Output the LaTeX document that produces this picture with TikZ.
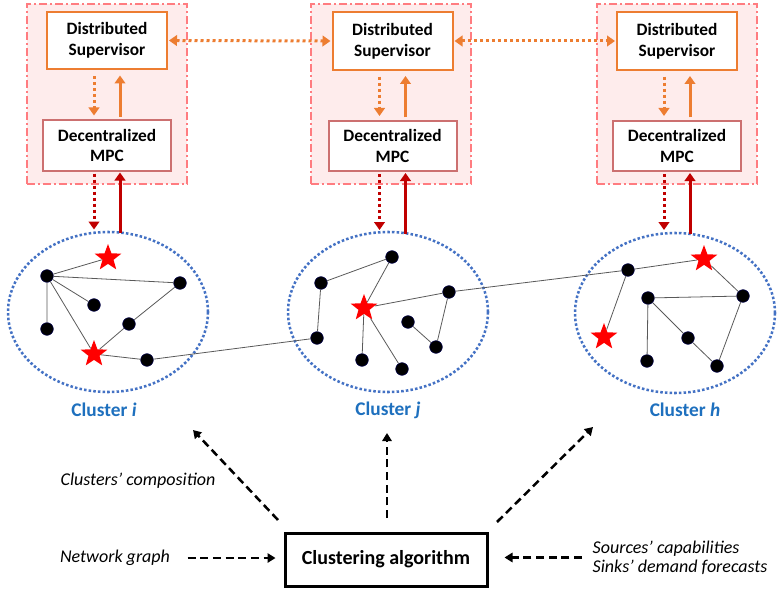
\documentclass[tikz,border=0pt]{standalone}
\usepackage{fontspec}
\setmainfont{Carlito}
\usetikzlibrary{shapes.geometric, arrows.meta, calc}

\definecolor{grpline}{RGB}{255,124,128}
\definecolor{grpfill}{RGB}{254,236,236}
\definecolor{supline}{RGB}{237,125,49}
\definecolor{mpcline}{RGB}{204,112,112}
\definecolor{ctrl}{RGB}{192,0,0}
\definecolor{clus}{RGB}{68,114,196}
\definecolor{clustext}{RGB}{30,112,190}

\begin{document}
\begin{tikzpicture}[x=0.75pt, y=-0.75pt]
	\tikzstyle{grp}=[draw=grpline, fill=grpfill, line width=1.5pt, dash pattern=on 6pt off 2.25pt on 1.5pt off 2.25pt, minimum width=120pt, minimum height=135pt];
	\tikzstyle{sup}=[draw=supline, fill=white, line width=1.5pt, minimum width=90pt, minimum height=43pt, align=center, font=\fontsize{13}{15.5}\selectfont\bfseries];
	\tikzstyle{mpc}=[draw=mpcline, fill=white, line width=1.5pt, minimum width=96pt, minimum height=37.5pt, align=center, font=\fontsize{13}{15.5}\selectfont\bfseries];
	\tikzstyle{odot}=[draw=supline, line width=2.25pt, dash pattern=on 2.25pt off 2.25pt, -{Triangle[length=6pt, width=8pt]}];
	\tikzstyle{osol}=[draw=supline, line width=2.25pt, -{Triangle[length=6pt, width=8pt]}];
	\tikzstyle{rdot}=[draw=ctrl, line width=2.25pt, dash pattern=on 2.25pt off 2.25pt, -{Triangle[length=6pt, width=8pt]}];
	\tikzstyle{rsol}=[draw=ctrl, line width=2.25pt, -{Triangle[length=6pt, width=8pt]}];
	\tikzstyle{clu}=[ellipse, draw=clus, line width=1.9pt, dash pattern=on 1.9pt off 1.6pt, minimum width=150pt, minimum height=120pt, inner sep=0pt];
	\tikzstyle{dot}=[circle, fill=black, draw=black!70!blue, line width=0.4pt, minimum size=9.5pt, inner sep=0pt];
	\tikzstyle{starnode}=[star, star points=5, star point ratio=2.4, fill=red, minimum size=21pt, inner sep=0pt];
	\tikzstyle{link}=[draw=black!65, line width=0.6pt];
	\tikzstyle{lab}=[text=clustext, font=\fontsize{14.5}{16}\selectfont\bfseries];
	\tikzstyle{note}=[font=\fontsize{13.5}{14.5}\selectfont\itshape];
	\tikzstyle{dsh}=[draw=black, line width=1.9pt, dash pattern=on 6pt off 3.5pt, -{Triangle[length=6pt, width=7pt]}];

	\useasboundingbox (0,0) rectangle (779,592);

	% controller groups
	\node[grp] (g1) at (106.5,94) {};
	\node[grp] (g2) at (390.5,94) {};
	\node[grp] (g3) at (676.5,94) {};

	\node[sup] (s1) at (107,40.5) {Distributed\\Supervisor};
	\node[sup] (s2) at (392.5,41) {Distributed\\Supervisor};
	\node[sup] (s3) at (677,41) {Distributed\\Supervisor};
	\node[mpc] (m1) at (107,145.5) {Decentralized\\MPC};
	\node[mpc] (m2) at (392.5,146) {Decentralized\\MPC};
	\node[mpc] (m3) at (677,146) {Decentralized\\MPC};

	\draw[odot, {Triangle[length=6pt, width=8pt]}-{Triangle[length=6pt, width=8pt]}, shorten <=0.75pt, shorten >=0.75pt] (s1.east) -- (s2.west);
	\draw[odot, {Triangle[length=6pt, width=8pt]}-{Triangle[length=6pt, width=8pt]}, shorten <=0.75pt, shorten >=0.75pt] (s2.east) -- (s3.west);

	\draw[odot, shorten <=4.5pt, shorten >=3pt] ($(s1.south)+(-13,0)$) -- ($(m1.north)+(-13,0)$);
	\draw[osol, shorten <=2pt, shorten >=4pt] ($(m1.north)+(13,0)$) -- ($(s1.south)+(13,0)$);
	\draw[odot, shorten <=4.5pt, shorten >=3pt] ($(s2.south)+(-13,0)$) -- ($(m2.north)+(-13,0)$);
	\draw[osol, shorten <=2pt, shorten >=4pt] ($(m2.north)+(13,0)$) -- ($(s2.south)+(13,0)$);
	\draw[odot, shorten <=4.5pt, shorten >=3pt] ($(s3.south)+(-13,0)$) -- ($(m3.north)+(-13,0)$);
	\draw[osol, shorten <=2pt, shorten >=4pt] ($(m3.north)+(13,0)$) -- ($(s3.south)+(13,0)$);

	% clusters
	\node[clu] (c1) at (108,312) {};
	\node[clu] (c2) at (388,312) {};
	\node[clu] (c3) at (675,313) {};

	\draw[rdot] ($(m1.south)+(-13,2)$) -- ($(m1.south)+(-13,58)$);
	\draw[rsol] ($(m1.south)+(13,61.5)$) -- ($(m1.south)+(13,1)$);
	\draw[rdot] ($(m2.south)+(-13,2)$) -- ($(m2.south)+(-13,58)$);
	\draw[rsol] ($(m2.south)+(13,61.5)$) -- ($(m2.south)+(13,1)$);
	\draw[rdot] ($(m3.south)+(-13,2)$) -- ($(m3.south)+(-13,58)$);
	\draw[rsol] ($(m3.south)+(13,61.5)$) -- ($(m3.south)+(13,1)$);

	\node[dot] (a1) at (47,276) {};
	\node[dot] (a2) at (180,283) {};
	\node[dot] (a3) at (94,305) {};
	\node[dot] (a4) at (47,329) {};
	\node[dot] (a5) at (129,324) {};
	\node[dot] (a6) at (147,360) {};
	\node[starnode] (a7) at (108,258) {};
	\node[starnode] (a8) at (94,354) {};

	\node[dot] (b1) at (392,257) {};
	\node[dot] (b2) at (321,283) {};
	\node[dot] (b3) at (449,292) {};
	\node[dot] (b4) at (408,322) {};
	\node[dot] (b5) at (317,338) {};
	\node[dot] (b6) at (436,347) {};
	\node[dot] (b7) at (362,360) {};
	\node[dot] (b8) at (402,369) {};
	\node[starnode] (b9) at (364,308) {};

	\node[dot] (d1) at (628,270) {};
	\node[dot] (d2) at (648,298) {};
	\node[dot] (d3) at (743,296) {};
	\node[dot] (d4) at (688,338) {};
	\node[dot] (d5) at (647,361) {};
	\node[dot] (d6) at (717,366) {};
	\node[starnode] (d7) at (704,259) {};
	\node[starnode] (d8) at (604,337) {};

	\draw[link] (a1) -- (a7) (a1) -- (a2) (a1) -- (a3) (a1) -- (a4) (a1) -- (a8)
		(a2) -- (a5) (a5) -- (a8) (a8) -- (a6) (a6) -- (b5);
	\draw[link] (b1) -- (b2) (b2) -- (b5) (b1) -- (b9) (b9) -- (b3) (b9) -- (b7)
		(b9) -- (b8) (b4) -- (b6) (b6) -- (b3) (b3) -- (d1);
	\draw[link] (d1) -- (d7) (d1) -- (d8) (d7) -- (d3) (d2) -- (d3) (d2) -- (d4)
		(d2) -- (d5) (d4) -- (d6) (d3) -- (d6);

	\node[lab] (l1) at (104,410) {Cluster \textit{i}};
	\node[lab] (l2) at (388,410) {Cluster \textit{j}};
	\node[lab] (l3) at (685,410) {Cluster \textit{h}};

	% clustering
	\node[draw=black, line width=2.25pt, minimum width=151.5pt, minimum height=39.75pt, font=\fontsize{15}{17}\selectfont\bfseries] (alg) at (386,559.5) {Clustering algorithm};

	\node[note] (cc) at (138,481) {Clusters’ composition};
	\node[note] (ng) at (115,558) {Network graph};
	\node[note, align=left, anchor=west] (sc) at (588,557.5) {Sources’ capabilities\\Sinks’ demand forecasts};

	\coordinate (f1) at (278,520);
	\coordinate (t1) at (193,430);
	\coordinate (f2) at (387,518);
	\coordinate (t2) at (387,433);
	\coordinate (f3) at (497,522);
	\coordinate (t3) at (593,427);

	\draw[dsh] (f1) -- (t1);
	\draw[dsh] (f2) -- (t2);
	\draw[dsh] (f3) -- (t3);
	\draw[dsh, shorten <=9.75pt, shorten >=6pt] (ng.east) -- (alg.west |- ng.east);
	\draw[dsh, shorten <=4.5pt, shorten >=12pt] (sc.west) -- (alg.east |- sc.west);

\end{tikzpicture}
\end{document}
